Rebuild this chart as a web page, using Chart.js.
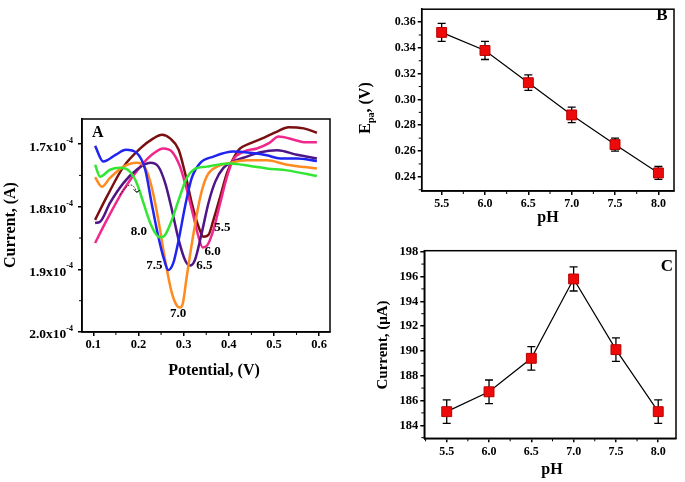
<!DOCTYPE html>
<html>
<head>
<meta charset="utf-8">
<script src="https://cdn.jsdelivr.net/npm/chart.js@4.4.1/dist/chart.umd.min.js"></script>
<style>
  body { margin: 0; background: #fff; }
  canvas { position: absolute; }
</style>
</head>
<body>
<canvas id="chartA" width="345" height="290" style="left:0;top:100px"></canvas>
<canvas id="chartB" width="330" height="232" style="left:355px;top:0"></canvas>
<canvas id="chartC" width="330" height="250" style="left:355px;top:232px"></canvas>
<script>
// panel A: DPV curves, current in units of 1e-4 A
const pot55 = [0.104, 0.130, 0.167, 0.204, 0.233, 0.252, 0.270, 0.289, 0.303, 0.318, 0.333, 0.344, 0.355, 0.366, 0.381, 0.396, 0.410, 0.425, 0.447, 0.477, 0.507, 0.532, 0.566, 0.595];
const cur55 = [1.821, 1.784, 1.736, 1.707, 1.691, 1.685, 1.691, 1.709, 1.746, 1.794, 1.832, 1.848, 1.845, 1.821, 1.784, 1.746, 1.723, 1.707, 1.699, 1.690, 1.680, 1.673, 1.675, 1.682];
const pot60 = [0.104, 0.130, 0.167, 0.204, 0.233, 0.255, 0.274, 0.292, 0.307, 0.322, 0.333, 0.342, 0.352, 0.366, 0.381, 0.396, 0.410, 0.433, 0.462, 0.490, 0.510, 0.544, 0.566, 0.595];
const cur60 = [1.858, 1.821, 1.773, 1.736, 1.715, 1.707, 1.712, 1.736, 1.773, 1.816, 1.848, 1.865, 1.862, 1.837, 1.794, 1.752, 1.725, 1.712, 1.707, 1.698, 1.688, 1.693, 1.697, 1.697];
const pot65 = [0.104, 0.115, 0.137, 0.167, 0.196, 0.226, 0.244, 0.259, 0.274, 0.289, 0.303, 0.314, 0.325, 0.340, 0.355, 0.370, 0.388, 0.410, 0.440, 0.470, 0.507, 0.551, 0.595];
const cur65 = [1.826, 1.824, 1.794, 1.762, 1.741, 1.730, 1.736, 1.762, 1.805, 1.853, 1.885, 1.894, 1.885, 1.842, 1.794, 1.760, 1.738, 1.728, 1.720, 1.713, 1.710, 1.717, 1.723];
const pot70 = [0.104, 0.119, 0.137, 0.167, 0.196, 0.215, 0.229, 0.244, 0.259, 0.274, 0.286, 0.292, 0.298, 0.307, 0.322, 0.337, 0.351, 0.374, 0.403, 0.440, 0.484, 0.529, 0.595];
const cur70 = [1.753, 1.768, 1.754, 1.736, 1.730, 1.738, 1.768, 1.821, 1.885, 1.938, 1.959, 1.961, 1.955, 1.911, 1.842, 1.784, 1.752, 1.736, 1.730, 1.726, 1.726, 1.733, 1.739];
const pot75 = [0.104, 0.122, 0.150, 0.172, 0.196, 0.215, 0.229, 0.244, 0.257, 0.266, 0.277, 0.289, 0.303, 0.318, 0.337, 0.366, 0.410, 0.447, 0.484, 0.514, 0.551, 0.595];
const cur75 = [1.703, 1.728, 1.717, 1.709, 1.714, 1.741, 1.794, 1.848, 1.885, 1.901, 1.890, 1.853, 1.800, 1.754, 1.730, 1.720, 1.712, 1.714, 1.718, 1.723, 1.723, 1.727];
const pot80 = [0.104, 0.115, 0.137, 0.159, 0.181, 0.196, 0.211, 0.226, 0.240, 0.248, 0.259, 0.274, 0.289, 0.307, 0.322, 0.351, 0.403, 0.447, 0.484, 0.529, 0.595];
const cur80 = [1.733, 1.752, 1.741, 1.738, 1.744, 1.762, 1.794, 1.826, 1.845, 1.849, 1.845, 1.821, 1.789, 1.754, 1.741, 1.736, 1.731, 1.735, 1.739, 1.742, 1.751];

const potTicks = [0.1, 0.2, 0.3, 0.4, 0.5, 0.6];
const curTicksA = [1.7, 1.8, 1.9, 2.0];

// panels B and C
const pH = [5.5, 6.0, 6.5, 7.0, 7.5, 8.0];
const epa = [0.352, 0.338, 0.313, 0.288, 0.265, 0.243];
const epaErr = [0.007, 0.007, 0.006, 0.006, 0.005, 0.005];
const ipa = [185.1, 186.7, 189.4, 195.8, 190.1, 185.1];
const ipaErr = [0.95, 0.95, 0.95, 0.97, 0.95, 0.95];

const pHTicks = [5.5, 6.0, 6.5, 7.0, 7.5, 8.0];
const epaTicks = [0.24, 0.26, 0.28, 0.30, 0.32, 0.34, 0.36];
const ipaTicks = [184, 186, 188, 190, 192, 194, 196, 198];

const SERIF = '"Liberation Serif", "Times New Roman", serif';
Chart.defaults.font.family = SERIF;
Chart.defaults.font.weight = 'bold';
Chart.defaults.color = '#000';

function pts(xs, ys) {
  return xs.map((x, i) => ({ x: x, y: ys[i] }));
}

function fixTicks(list) {
  return (s) => { s.ticks = list.map(v => ({ value: v })); };
}

function font(size) {
  return 'bold ' + size + 'px ' + SERIF;
}

// frame + minor ticks for every panel
function drawFrame(chart) {
  const ctx = chart.ctx, a = chart.chartArea;
  ctx.save();
  ctx.strokeStyle = '#000';
  ctx.lineWidth = 1.5;
  ctx.strokeRect(a.left, a.top, a.right - a.left, a.bottom - a.top);
  ctx.lineWidth = 1;
  ctx.beginPath();
  ['x', 'y'].forEach(id => {
    const s = chart.scales[id];
    const vals = s.ticks.map(t => t.value);
    const step = vals[1] - vals[0];
    for (let v = vals[0] - step / 2; v <= Math.max(s.min, s.max); v += step) {
      if (v < Math.min(s.min, s.max)) continue;
      const p = s.getPixelForValue(v);
      if (id === 'x') { ctx.moveTo(p, a.bottom); ctx.lineTo(p, a.bottom + 3); }
      else { ctx.moveTo(a.left, p); ctx.lineTo(a.left - 3, p); }
    }
  });
  ctx.stroke();
  ctx.restore();
}

function errorBars(errs) {
  return {
    id: 'errbars',
    beforeDatasetsDraw(chart) {
      const ctx = chart.ctx, xs = chart.scales.x, ys = chart.scales.y;
      const ds = chart.data.datasets[0].data;
      ctx.save();
      ctx.strokeStyle = '#000';
      ctx.lineWidth = 1.3;
      ds.forEach((p, i) => {
        const x = xs.getPixelForValue(p.x);
        const y1 = ys.getPixelForValue(p.y - errs[i]);
        const y2 = ys.getPixelForValue(p.y + errs[i]);
        ctx.beginPath();
        ctx.moveTo(x, y1); ctx.lineTo(x, y2);
        ctx.moveTo(x - 4, y1); ctx.lineTo(x + 4, y1);
        ctx.moveTo(x - 4, y2); ctx.lineTo(x + 4, y2);
        ctx.stroke();
      });
      ctx.restore();
    }
  };
}

function axisGrid() {
  return { drawOnChartArea: false, color: '#000', lineWidth: 1.5, tickLength: 4 };
}

// ---------- panel A ----------
const peakLabels = [
  { t: '5.5', x: 0.386, y: 1.834 },
  { t: '6.0', x: 0.364, y: 1.872 },
  { t: '6.5', x: 0.346, y: 1.894 },
  { t: '7.0', x: 0.288, y: 1.971 },
  { t: '7.5', x: 0.235, y: 1.894 },
  { t: '8.0', x: 0.201, y: 1.840 }
];

const decorA = {
  id: 'decorA',
  afterDraw(chart) {
    const ctx = chart.ctx, xs = chart.scales.x, ys = chart.scales.y;
    drawFrame(chart);
    ctx.save();
    ctx.fillStyle = '#000';
    // y tick labels with exponent
    curTicksA.forEach(v => {
      const y = ys.getPixelForValue(v);
      ctx.font = font(8);
      const sw = ctx.measureText('-4').width;
      ctx.textAlign = 'left';
      ctx.textBaseline = 'middle';
      ctx.fillText('-4', 73 - sw, y - 3);
      ctx.font = font(13.5);
      ctx.textAlign = 'right';
      ctx.fillText(v.toFixed(1) + 'x10', 73 - sw, y + 3);
    });
    // peak labels
    ctx.font = font(13);
    ctx.textAlign = 'center';
    ctx.textBaseline = 'middle';
    peakLabels.forEach(l => {
      ctx.fillText(l.t, xs.getPixelForValue(l.x), ys.getPixelForValue(l.y));
    });
    // panel letter
    ctx.font = font(16);
    ctx.textAlign = 'left';
    ctx.fillText('A', 92, 33);
    // dotted arrow
    ctx.setLineDash([1.5, 1.5]);
    ctx.lineWidth = 1;
    ctx.strokeStyle = '#000';
    const x0 = xs.getPixelForValue(0.159), y0 = ys.getPixelForValue(1.781);
    const xc = xs.getPixelForValue(0.185), yc = ys.getPixelForValue(1.752);
    const x1 = xs.getPixelForValue(0.196), y1 = ys.getPixelForValue(1.777);
    ctx.beginPath();
    ctx.moveTo(x0, y0);
    ctx.quadraticCurveTo(xc, yc, x1, y1);
    ctx.stroke();
    ctx.setLineDash([]);
    ctx.beginPath();
    ctx.moveTo(x1 - 3, y1 - 3); ctx.lineTo(x1, y1); ctx.lineTo(x1 + 3, y1 - 2);
    ctx.stroke();
    // axis titles
    ctx.font = font(16);
    ctx.textAlign = 'center';
    ctx.fillText('Potential, (V)', 214, 271);
    ctx.translate(11, 125);
    ctx.rotate(-Math.PI / 2);
    ctx.fillText('Current, (A)', 0, 0);
    ctx.restore();
  }
};

function curve(label, xs, ys, color) {
  return {
    label: label,
    data: pts(xs, ys),
    borderColor: color,
    borderWidth: 2.5,
    pointRadius: 0,
    cubicInterpolationMode: 'monotone',
    fill: false
  };
}

new Chart(document.getElementById('chartA'), {
  type: 'line',
  data: {
    datasets: [
      curve('8.0', pot80, cur80, '#33e633'),
      curve('7.5', pot75, cur75, '#1f24f0'),
      curve('7.0', pot70, cur70, '#ff8a1f'),
      curve('6.5', pot65, cur65, '#4e1587'),
      curve('6.0', pot60, cur60, '#f0288c'),
      curve('5.5', pot55, cur55, '#7a0f12')
    ]
  },
  options: {
    responsive: false,
    animation: false,
    layout: { padding: { left: 0, top: 19, right: 15, bottom: 0 } },
    plugins: { legend: { display: false }, tooltip: { enabled: false } },
    scales: {
      x: {
        type: 'linear', min: 0.075, max: 0.624,
        afterBuildTicks: fixTicks(potTicks),
        afterFit: (s) => { s.height = 58; },
        grid: axisGrid(),
        border: { color: '#000', width: 1.5 },
        ticks: { font: { size: 12.5 }, padding: 1, callback: (v) => v.toFixed(1) }
      },
      y: {
        type: 'linear', reverse: true, min: 1.66, max: 2.0,
        afterBuildTicks: fixTicks(curTicksA),
        afterFit: (s) => { s.width = 82; },
        grid: axisGrid(),
        border: { color: '#000', width: 1.5 },
        ticks: { display: false }
      }
    }
  },
  plugins: [decorA]
});

// ---------- panels B and C ----------
function pointSet(ys) {
  return {
    data: pts(pH, ys),
    borderColor: '#000',
    borderWidth: 1.2,
    pointStyle: 'rect',
    pointRadius: 7,
    pointBackgroundColor: '#ee0a0a',
    pointBorderColor: '#b80000',
    pointBorderWidth: 1,
    tension: 0
  };
}

const decorB = {
  id: 'decorB',
  afterDraw(chart) {
    const ctx = chart.ctx;
    drawFrame(chart);
    ctx.save();
    ctx.fillStyle = '#000';
    ctx.textBaseline = 'middle';
    ctx.font = font(17);
    ctx.textAlign = 'center';
    ctx.fillText('B', 307, 16);
    ctx.font = font(16);
    ctx.fillText('pH', 193, 218);
    // E_pa, (V) rotated
    ctx.translate(11, 108);
    ctx.rotate(-Math.PI / 2);
    ctx.font = font(16);
    const wE = ctx.measureText('E').width;
    const wR = ctx.measureText(', (V)').width;
    ctx.font = font(10);
    const wS = ctx.measureText('pa').width;
    let x = -(wE + wS + wR) / 2;
    ctx.textAlign = 'left';
    ctx.font = font(16);
    ctx.fillText('E', x, 0);
    ctx.font = font(10);
    ctx.fillText('pa', x + wE, 5);
    ctx.font = font(16);
    ctx.fillText(', (V)', x + wE + wS, 0);
    ctx.restore();
  }
};

new Chart(document.getElementById('chartB'), {
  type: 'line',
  data: { datasets: [pointSet(epa)] },
  options: {
    responsive: false,
    animation: false,
    layout: { padding: { left: 0, top: 4, right: 11, bottom: 0 } },
    plugins: { legend: { display: false }, tooltip: { enabled: false } },
    scales: {
      x: {
        type: 'linear', min: 5.27, max: 8.18,
        afterBuildTicks: fixTicks(pHTicks),
        afterFit: (s) => { s.height = 41; },
        grid: axisGrid(),
        border: { color: '#000', width: 1.5 },
        ticks: { font: { size: 12 }, padding: 2, callback: (v) => v.toFixed(1) }
      },
      y: {
        type: 'linear', min: 0.229, max: 0.37,
        afterBuildTicks: fixTicks(epaTicks),
        afterFit: (s) => { s.width = 66.7; },
        grid: axisGrid(),
        border: { color: '#000', width: 1.5 },
        ticks: { font: { size: 12 }, padding: 2, callback: (v) => v.toFixed(2) }
      }
    }
  },
  plugins: [errorBars(epaErr), decorB]
});

const decorC = {
  id: 'decorC',
  afterDraw(chart) {
    const ctx = chart.ctx;
    drawFrame(chart);
    ctx.save();
    ctx.fillStyle = '#000';
    ctx.textBaseline = 'middle';
    ctx.textAlign = 'center';
    ctx.font = font(17);
    ctx.fillText('C', 312, 35);
    ctx.font = font(16);
    ctx.fillText('pH', 197, 238);
    ctx.translate(28, 113);
    ctx.rotate(-Math.PI / 2);
    ctx.font = font(15);
    ctx.fillText('Current, (\u03bcA)', 0, 0);
    ctx.restore();
  }
};

new Chart(document.getElementById('chartC'), {
  type: 'line',
  data: { datasets: [pointSet(ipa)] },
  options: {
    responsive: false,
    animation: false,
    layout: { padding: { left: 0, top: 18.7, right: 9, bottom: 0 } },
    plugins: { legend: { display: false }, tooltip: { enabled: false } },
    scales: {
      x: {
        type: 'linear', min: 5.235, max: 8.21,
        afterBuildTicks: fixTicks(pHTicks),
        afterFit: (s) => { s.height = 43.7; },
        grid: axisGrid(),
        border: { color: '#000', width: 1.5 },
        ticks: { font: { size: 12 }, padding: 2, callback: (v) => v.toFixed(1) }
      },
      y: {
        type: 'linear', min: 182.95, max: 198.08,
        afterBuildTicks: fixTicks(ipaTicks),
        afterFit: (s) => { s.width = 69.3; },
        grid: axisGrid(),
        border: { color: '#000', width: 1.5 },
        ticks: { font: { size: 12.5 }, padding: 2, callback: (v) => String(v) }
      }
    }
  },
  plugins: [errorBars(ipaErr), decorC]
});
</script>
</body>
</html>
